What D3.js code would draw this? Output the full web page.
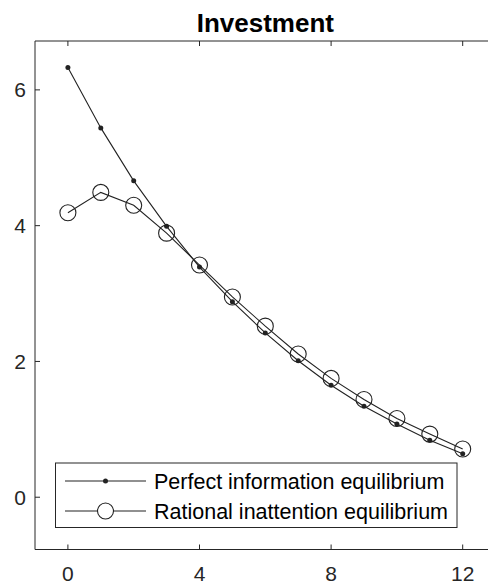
<!DOCTYPE html>
<html>
<head>
<meta charset="utf-8">
<script src="https://cdn.jsdelivr.net/npm/d3@7"></script>
<style>
  body { margin: 0; background: #fff; }
  svg { display: block; font-family: "Liberation Sans", Arial, sans-serif; }
</style>
</head>
<body>
<div id="chart"></div>
<script>
// horizon (periods)
var periods = [0, 1, 2, 3, 4, 5, 6, 7, 8, 9, 10, 11, 12];
// perfect information equilibrium
var perfectInfo = [6.33, 5.44, 4.66, 3.99, 3.39, 2.88, 2.42, 2.01, 1.65, 1.34, 1.08, 0.84, 0.64];
// rational inattention equilibrium
var rationalInatt = [4.19, 4.49, 4.30, 3.89, 3.42, 2.95, 2.52, 2.11, 1.75, 1.44, 1.16, 0.93, 0.71];
var xTicks = [0, 4, 8, 12];
var yTicks = [0, 2, 4, 6];
var seriesNames = ["Perfect information equilibrium", "Rational inattention equilibrium"];

var width = 488, height = 584;
var axisColor = "#262626";
var lineColor = "#222";

var svg = d3.select("#chart").append("svg")
    .attr("width", width)
    .attr("height", height);

var x = d3.scaleLinear().domain([-1, 13]).range([35, 495.6]);
var y = d3.scaleLinear().domain([-0.77, 6.72]).range([549.5, 41]);

// title
svg.append("text")
    .attr("x", (x.range()[0] + x.range()[1]) / 2)
    .attr("y", 32)
    .attr("text-anchor", "middle")
    .style("font-size", "26px")
    .style("font-weight", "bold")
    .style("fill", "#000")
    .text("Investment");

// box lines (right side falls outside the picture)
svg.append("line")
    .attr("x1", x.range()[0]).attr("x2", x.range()[1])
    .attr("y1", y.range()[1]).attr("y2", y.range()[1])
    .style("stroke", axisColor);
svg.append("line")
    .attr("x1", x.range()[0]).attr("x2", x.range()[1])
    .attr("y1", y.range()[0]).attr("y2", y.range()[0])
    .style("stroke", axisColor);
svg.append("line")
    .attr("x1", x.range()[0]).attr("x2", x.range()[0])
    .attr("y1", y.range()[0]).attr("y2", y.range()[1])
    .style("stroke", axisColor);

// x ticks, bottom and top, pointing inwards
xTicks.forEach(function(t){
    svg.append("line")
        .attr("x1", x(t)).attr("x2", x(t))
        .attr("y1", y.range()[0]).attr("y2", y.range()[0] - 5)
        .style("stroke", axisColor);
    svg.append("line")
        .attr("x1", x(t)).attr("x2", x(t))
        .attr("y1", y.range()[1]).attr("y2", y.range()[1] + 5)
        .style("stroke", axisColor);
    svg.append("text")
        .attr("x", x(t))
        .attr("y", 581)
        .attr("text-anchor", "middle")
        .style("font-size", "21px")
        .style("fill", axisColor)
        .text(t);
});

// y ticks
yTicks.forEach(function(t){
    svg.append("line")
        .attr("x1", x.range()[0]).attr("x2", x.range()[0] + 5)
        .attr("y1", y(t)).attr("y2", y(t))
        .style("stroke", axisColor);
    svg.append("text")
        .attr("x", 26)
        .attr("y", y(t))
        .attr("dy", "0.36em")
        .attr("text-anchor", "end")
        .style("font-size", "21px")
        .style("fill", axisColor)
        .text(t);
});

var line = d3.line()
    .x(function(d){ return x(d[0]); })
    .y(function(d){ return y(d[1]); });

var perfData = periods.map(function(p, i){ return [p, perfectInfo[i]]; });
var riData = periods.map(function(p, i){ return [p, rationalInatt[i]]; });

svg.append("path")
    .datum(perfData)
    .attr("d", line)
    .style("fill", "none")
    .style("stroke", lineColor)
    .style("stroke-width", 1.1);

svg.selectAll(".dot")
    .data(perfData)
    .enter().append("circle")
    .attr("class", "dot")
    .attr("cx", function(d){ return x(d[0]); })
    .attr("cy", function(d){ return y(d[1]); })
    .attr("r", 2.5)
    .style("fill", lineColor);

svg.append("path")
    .datum(riData)
    .attr("d", line)
    .style("fill", "none")
    .style("stroke", lineColor)
    .style("stroke-width", 1.1);

svg.selectAll(".ring")
    .data(riData)
    .enter().append("circle")
    .attr("class", "ring")
    .attr("cx", function(d){ return x(d[0]); })
    .attr("cy", function(d){ return y(d[1]); })
    .attr("r", 8)
    .style("fill", "none")
    .style("stroke", lineColor)
    .style("stroke-width", 1.1);

// legend
var legend = svg.append("g");
legend.append("rect")
    .attr("x", 55.5).attr("y", 463)
    .attr("width", 401.5).attr("height", 64.5)
    .style("fill", "#fff")
    .style("stroke", axisColor)
    .style("stroke-width", 1);

var rowsY = [481, 511];
seriesNames.forEach(function(name, i){
    legend.append("line")
        .attr("x1", 65).attr("x2", 146)
        .attr("y1", rowsY[i]).attr("y2", rowsY[i])
        .style("stroke", lineColor)
        .style("stroke-width", 1.1);
    if (i === 0) {
        legend.append("circle")
            .attr("cx", 105.5).attr("cy", rowsY[i]).attr("r", 2.5)
            .style("fill", lineColor);
    } else {
        legend.append("circle")
            .attr("cx", 105.5).attr("cy", rowsY[i]).attr("r", 8)
            .style("fill", "#fff")
            .style("stroke", lineColor)
            .style("stroke-width", 1.1);
    }
    legend.append("text")
        .attr("x", 154)
        .attr("y", rowsY[i])
        .attr("dy", "0.36em")
        .style("font-size", "21.5px")
        .style("fill", "#000")
        .text(name);
});
</script>
</body>
</html>
